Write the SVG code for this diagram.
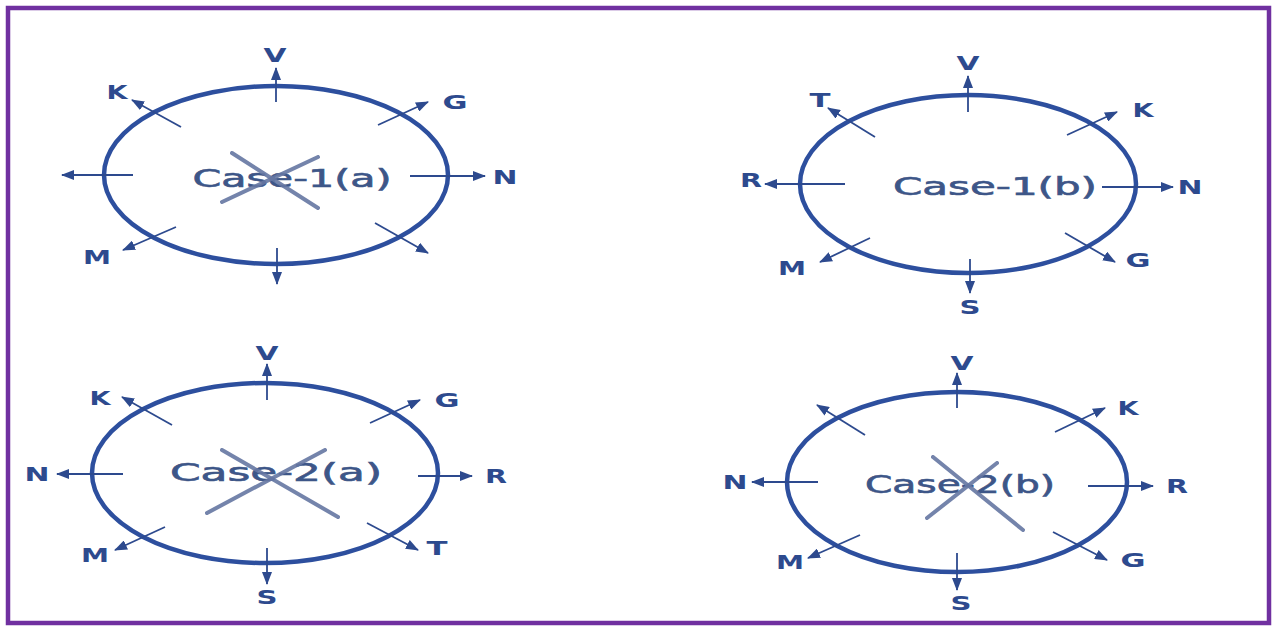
<svg xmlns="http://www.w3.org/2000/svg" width="1276" height="630" viewBox="0 0 1276 630">
<style>
.ring{fill:none;stroke:#2d4f9e;stroke-width:4.5}
.arr{stroke:#2d4a8e;stroke-width:1.8;fill:none;marker-end:url(#ah)}
.cross{stroke:#6677a3;stroke-width:4;stroke-linecap:round;opacity:0.9}
.case{font-family:"DejaVu Sans",Verdana,sans-serif;font-size:24px;fill:#3d5688;stroke:#3d5688;stroke-width:0.6;text-anchor:middle}
.lbl{font-family:"DejaVu Sans",Verdana,sans-serif;font-weight:bold;font-size:20px;fill:#2d4a8e;text-anchor:middle}
</style>
<defs>
<marker id="ah" markerUnits="userSpaceOnUse" markerWidth="13" markerHeight="10" refX="12" refY="5" orient="auto">
<path d="M0,0 L13,5 L0,10 z" fill="#2d4a8e"/>
</marker>
</defs>
<rect x="0" y="0" width="1276" height="630" fill="#ffffff"/>
<rect x="8" y="8" width="1261" height="615" fill="none" stroke="#7030a0" stroke-width="4.5"/>

<g id="case-1a">
<ellipse class="ring" cx="276" cy="175" rx="172" ry="89"/>
<text class="case" x="292" y="187" textLength="199" lengthAdjust="spacingAndGlyphs">Case-1(a)</text>
<line class="cross" x1="232" y1="153" x2="318" y2="208"/>
<line class="cross" x1="222" y1="202" x2="318" y2="157"/>
</g>
<g id="case-1b">
<ellipse class="ring" cx="968" cy="184" rx="168" ry="89"/>
<text class="case" x="995" y="195" textLength="204" lengthAdjust="spacingAndGlyphs">Case-1(b)</text>
</g>
<g id="case-2a">
<ellipse class="ring" cx="265" cy="473" rx="173" ry="90"/>
<text class="case" x="276" y="481" textLength="212" lengthAdjust="spacingAndGlyphs">Case-2(a)</text>
<line class="cross" x1="222" y1="450" x2="338" y2="517"/>
<line class="cross" x1="207" y1="513" x2="325" y2="450"/>
</g>
<g id="case-2b">
<ellipse class="ring" cx="957" cy="482" rx="170" ry="90"/>
<text class="case" x="960" y="493" textLength="190" lengthAdjust="spacingAndGlyphs">Case-2(b)</text>
<line class="cross" x1="933" y1="457" x2="1023" y2="530"/>
<line class="cross" x1="927" y1="518" x2="997" y2="463"/>
</g>

<g id="connectors">
<line class="arr" x1="276" y1="102" x2="276" y2="68"/>
<line class="arr" x1="181" y1="127" x2="132" y2="100"/>
<line class="arr" x1="378" y1="125" x2="428" y2="102"/>
<line class="arr" x1="133" y1="175" x2="62" y2="175"/>
<line class="arr" x1="410" y1="176" x2="485" y2="176"/>
<line class="arr" x1="176" y1="227" x2="123" y2="250"/>
<line class="arr" x1="375" y1="223" x2="428" y2="253"/>
<line class="arr" x1="277" y1="248" x2="277" y2="284"/>

<line class="arr" x1="968" y1="112" x2="968" y2="76"/>
<line class="arr" x1="875" y1="137" x2="828" y2="108"/>
<line class="arr" x1="1067" y1="135" x2="1117" y2="112"/>
<line class="arr" x1="845" y1="184" x2="765" y2="184"/>
<line class="arr" x1="1102" y1="187" x2="1173" y2="187"/>
<line class="arr" x1="870" y1="238" x2="820" y2="262"/>
<line class="arr" x1="1065" y1="233" x2="1115" y2="262"/>
<line class="arr" x1="970" y1="259" x2="970" y2="293"/>

<line class="arr" x1="267" y1="400" x2="267" y2="364"/>
<line class="arr" x1="172" y1="425" x2="122" y2="397"/>
<line class="arr" x1="370" y1="423" x2="420" y2="400"/>
<line class="arr" x1="123" y1="474" x2="57" y2="474"/>
<line class="arr" x1="418" y1="476" x2="472" y2="476"/>
<line class="arr" x1="165" y1="527" x2="115" y2="550"/>
<line class="arr" x1="367" y1="523" x2="418" y2="550"/>
<line class="arr" x1="267" y1="548" x2="267" y2="584"/>

<line class="arr" x1="957" y1="408" x2="957" y2="373"/>
<line class="arr" x1="865" y1="435" x2="817" y2="405"/>
<line class="arr" x1="1055" y1="432" x2="1105" y2="408"/>
<line class="arr" x1="818" y1="482" x2="752" y2="482"/>
<line class="arr" x1="1088" y1="486" x2="1153" y2="486"/>
<line class="arr" x1="860" y1="535" x2="808" y2="558"/>
<line class="arr" x1="1053" y1="532" x2="1107" y2="560"/>
<line class="arr" x1="957" y1="553" x2="957" y2="590"/>
</g>

<g id="labels">
<text class="lbl" x="275" y="62" textLength="23" lengthAdjust="spacingAndGlyphs">V</text>
<text class="lbl" x="117" y="99" textLength="21" lengthAdjust="spacingAndGlyphs">K</text>
<text class="lbl" x="455" y="109" textLength="25" lengthAdjust="spacingAndGlyphs">G</text>
<text class="lbl" x="505" y="184" textLength="25" lengthAdjust="spacingAndGlyphs">N</text>
<text class="lbl" x="97" y="264" textLength="28" lengthAdjust="spacingAndGlyphs">M</text>

<text class="lbl" x="968" y="70" textLength="23" lengthAdjust="spacingAndGlyphs">V</text>
<text class="lbl" x="820" y="107" textLength="21" lengthAdjust="spacingAndGlyphs">T</text>
<text class="lbl" x="1143" y="117" textLength="21" lengthAdjust="spacingAndGlyphs">K</text>
<text class="lbl" x="751" y="187" textLength="22" lengthAdjust="spacingAndGlyphs">R</text>
<text class="lbl" x="1190" y="194" textLength="25" lengthAdjust="spacingAndGlyphs">N</text>
<text class="lbl" x="792" y="275" textLength="28" lengthAdjust="spacingAndGlyphs">M</text>
<text class="lbl" x="1138" y="267" textLength="25" lengthAdjust="spacingAndGlyphs">G</text>
<text class="lbl" x="970" y="314" textLength="21" lengthAdjust="spacingAndGlyphs">S</text>

<text class="lbl" x="267" y="360" textLength="23" lengthAdjust="spacingAndGlyphs">V</text>
<text class="lbl" x="100" y="405" textLength="21" lengthAdjust="spacingAndGlyphs">K</text>
<text class="lbl" x="447" y="407" textLength="25" lengthAdjust="spacingAndGlyphs">G</text>
<text class="lbl" x="37" y="481" textLength="25" lengthAdjust="spacingAndGlyphs">N</text>
<text class="lbl" x="496" y="483" textLength="22" lengthAdjust="spacingAndGlyphs">R</text>
<text class="lbl" x="95" y="562" textLength="28" lengthAdjust="spacingAndGlyphs">M</text>
<text class="lbl" x="437" y="555" textLength="21" lengthAdjust="spacingAndGlyphs">T</text>
<text class="lbl" x="267" y="604" textLength="21" lengthAdjust="spacingAndGlyphs">S</text>

<text class="lbl" x="962" y="370" textLength="23" lengthAdjust="spacingAndGlyphs">V</text>
<text class="lbl" x="1128" y="415" textLength="21" lengthAdjust="spacingAndGlyphs">K</text>
<text class="lbl" x="735" y="489" textLength="25" lengthAdjust="spacingAndGlyphs">N</text>
<text class="lbl" x="1177" y="493" textLength="22" lengthAdjust="spacingAndGlyphs">R</text>
<text class="lbl" x="790" y="569" textLength="28" lengthAdjust="spacingAndGlyphs">M</text>
<text class="lbl" x="1133" y="567" textLength="25" lengthAdjust="spacingAndGlyphs">G</text>
<text class="lbl" x="961" y="610" textLength="21" lengthAdjust="spacingAndGlyphs">S</text>
</g>
</svg>
